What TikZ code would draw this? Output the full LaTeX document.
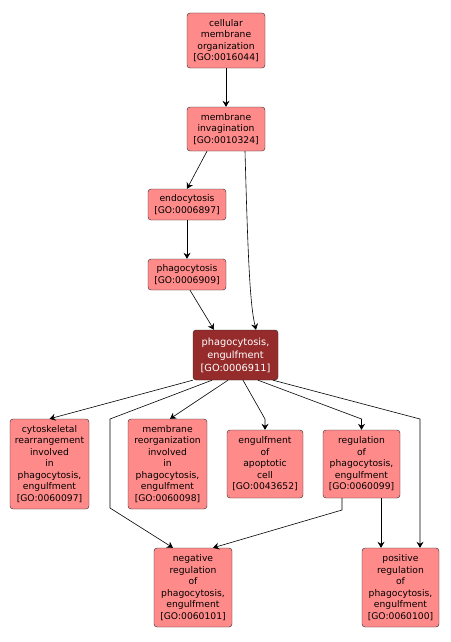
\documentclass[tikz,border=0pt]{standalone}
\usepackage{fontspec}
\setmainfont{DejaVu Sans}
\definecolor{termfill}{RGB}{255,138,138}
\definecolor{focusfill}{RGB}{150,43,43}
\usetikzlibrary{arrows.meta}
\usetikzlibrary{calc}

\begin{document}
\begin{tikzpicture}[%
    x=1pt,y=-1pt,
    goterm/.style={%
      draw=black!85,
      fill=termfill,
      rounded corners=3pt,
      align=center,
      inner sep=1pt,
      font=\fontsize{9.2}{11.5}\selectfont,
      minimum width=78pt,
    },
    focusterm/.style={%
      goterm,
      fill=focusfill,
      text=white,
      font=\fontsize{9.8}{13}\selectfont,
    },
    edge/.style={%
      draw=black,
      line width=0.6pt,
      -{Stealth[length=6pt,width=7pt,inset=2pt]},
    },
  ]
  \useasboundingbox (0,0) rectangle (450,642);

  \node [goterm,minimum height=55pt] (cmo) at (226,40.5)
    {cellular\\membrane\\organization\\{[GO:0016044]}};
  \node [goterm,minimum height=44pt] (inv) at (226,129)
    {membrane\\invagination\\{[GO:0010324]}};
  \node [goterm,minimum height=31pt] (endo) at (187,204.5)
    {endocytosis\\{[GO:0006897]}};
  \node [goterm,minimum height=31pt] (phago) at (187,274.5)
    {phagocytosis\\{[GO:0006909]}};
  \node [focusterm,minimum width=85pt,minimum height=50pt] (engulf) at (235.5,355)
    {phagocytosis,\\engulfment\\{[GO:0006911]}};

  \node [goterm,minimum width=79pt,minimum height=90pt] (cyto) at (49.5,464)
    {cytoskeletal\\rearrangement\\involved\\in\\phagocytosis,\\engulfment\\{[GO:0060097]}};
  \node [goterm,minimum width=79pt,minimum height=90pt] (reorg) at (167.5,464)
    {membrane\\reorganization\\involved\\in\\phagocytosis,\\engulfment\\{[GO:0060098]}};
  \node [goterm,minimum width=76pt,minimum height=68pt] (apopt) at (265,464)
    {engulfment\\of\\apoptotic\\cell\\{[GO:0043652]}};
  \node [goterm,minimum width=77pt,minimum height=68pt] (reg) at (361.5,464)
    {regulation\\of\\phagocytosis,\\engulfment\\{[GO:0060099]}};
  \node [goterm,minimum height=79pt] (negreg) at (193,587.5)
    {negative\\regulation\\of\\phagocytosis,\\engulfment\\{[GO:0060101]}};
  \node [goterm,minimum width=77pt,minimum height=79pt] (posreg) at (400.5,587.5)
    {positive\\regulation\\of\\phagocytosis,\\engulfment\\{[GO:0060100]}};

  % bend points
  \coordinate (neg bend a) at (110,419);
  \coordinate (neg bend b) at (110,508);
  \coordinate (apopt bend) at (265,419);
  \coordinate (reg bend) at (361.5,419);
  \coordinate (pos bend) at (420,419);
  \coordinate (reg neg bend) at (342,510);

  \draw [edge] (cmo) -- (inv);
  \draw [edge] ([xshift=-19pt]inv.south) -- (endo.north);
  \draw [edge] (endo) -- (phago);
  \draw [edge] ([xshift=3pt]phago.south) -- ([xshift=-21.5pt]engulf.north);
  \draw [edge] ([xshift=19pt]inv.south) .. controls (248,260) and (250,305) .. ([xshift=20.5pt]engulf.north);

  \draw [edge] (engulf.south west) -- (cyto.north);
  \draw [edge] ([xshift=-23.5pt]engulf.south) -- (neg bend a) -- (neg bend b) -- ([xshift=-20pt]negreg.north);
  \draw [edge] ([xshift=-7.5pt]engulf.south) -- ([xshift=2.5pt]reorg.north);
  \draw [edge] ([xshift=7.5pt]engulf.south) -- (apopt bend) -- (apopt.north);
  \draw [edge] ([xshift=22.5pt]engulf.south) -- (reg bend) -- (reg.north);
  \draw [edge] ([xshift=37.5pt]engulf.south) -- (pos bend) -- (pos bend |- posreg.north);

  \draw [edge] ([xshift=-19.5pt]reg.south) -- (reg neg bend) -- ([xshift=20pt]negreg.north);
  \draw [edge] ([xshift=19.5pt]reg.south) -- ([xshift=-19.5pt]posreg.north);
\end{tikzpicture}
\end{document}
